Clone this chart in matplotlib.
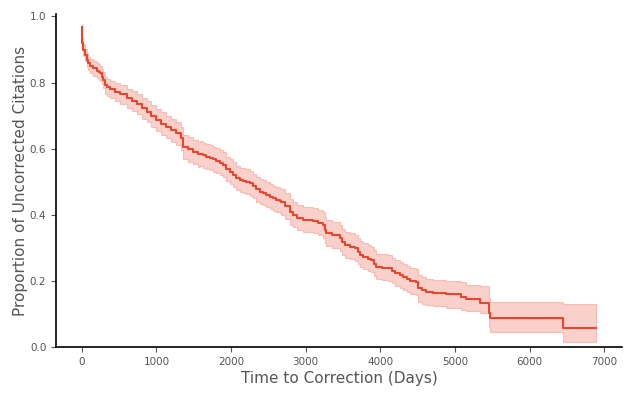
import numpy as np
import matplotlib
matplotlib.use("Agg")
import matplotlib.pyplot as plt

# Kaplan-Meier estimate (step, post)
days = [0, 3, 4, 17, 40, 63, 84, 116, 151, 197, 232, 250, 268, 285, 308, 331,
        375, 442, 509, 599, 666, 733, 800, 867, 933, 1000, 1067, 1134, 1201,
        1268, 1335, 1357, 1424, 1491, 1558,
        1580, 1625, 1670, 1714, 1759, 1804, 1848, 1892, 1938, 1982, 2026, 2072,
        2116, 2160, 2206, 2250, 2294, 2340, 2384, 2428, 2474, 2518, 2562, 2608,
        2652, 2665, 2719, 2786, 2830, 2879, 2960, 3098, 3161, 3232, 3254,
        3277, 3348, 3455, 3489, 3522, 3589, 3656, 3696, 3730, 3767, 3830, 3880,
        3911, 3947, 4018, 4102, 4152, 4192, 4259, 4303, 4353, 4393, 4483, 4504,
        4554, 4617, 4705, 4884, 5085, 5152, 5330, 5455, 5474, 6446, 6893]
surv = [0.969, 0.938, 0.918, 0.898, 0.883, 0.868, 0.858, 0.850, 0.843, 0.836,
        0.833, 0.828, 0.818, 0.807, 0.792, 0.785, 0.779, 0.772,
        0.764, 0.752, 0.744, 0.735, 0.723, 0.712, 0.699, 0.687,
        0.676, 0.666, 0.656, 0.647, 0.631, 0.606, 0.598, 0.591, 0.583,
        0.584, 0.580, 0.576, 0.572, 0.568, 0.564, 0.558, 0.551, 0.538, 0.531,
        0.521, 0.511, 0.505, 0.503, 0.500, 0.495, 0.487, 0.477, 0.470, 0.467,
        0.460, 0.455, 0.450, 0.445, 0.442,
        0.439, 0.427, 0.409, 0.400, 0.391, 0.386, 0.382,
        0.377, 0.369, 0.354, 0.344, 0.339, 0.329, 0.318, 0.309, 0.304, 0.299,
        0.289, 0.280, 0.274, 0.268, 0.264, 0.253, 0.243, 0.241, 0.239, 0.231,
        0.224, 0.218, 0.213, 0.206, 0.201, 0.198, 0.178, 0.172, 0.168, 0.165,
        0.161, 0.153, 0.145, 0.135, 0.103, 0.088, 0.057, 0.057]
ci_lower = [0.960, 0.925, 0.903, 0.880, 0.864, 0.848, 0.837, 0.828, 0.821, 0.813,
            0.809, 0.804, 0.794, 0.782, 0.766, 0.759, 0.752, 0.745,
            0.736, 0.723, 0.714, 0.704, 0.691, 0.680, 0.666, 0.653,
            0.642, 0.631, 0.621, 0.611, 0.595, 0.570, 0.561, 0.554, 0.546,
            0.547, 0.543, 0.539, 0.535, 0.531, 0.527, 0.521, 0.514, 0.501, 0.494,
            0.484, 0.474, 0.468, 0.466, 0.463, 0.458, 0.450, 0.440, 0.433, 0.430,
            0.423, 0.418, 0.413, 0.408, 0.405,
            0.401, 0.389, 0.371, 0.362, 0.353, 0.348, 0.344,
            0.339, 0.331, 0.316, 0.306, 0.301, 0.291, 0.280, 0.271, 0.266, 0.261,
            0.251, 0.242, 0.236, 0.230, 0.226, 0.215, 0.205, 0.203, 0.201, 0.193,
            0.185, 0.179, 0.174, 0.167, 0.162, 0.159, 0.138, 0.132, 0.127, 0.124,
            0.119, 0.112, 0.110, 0.104, 0.060, 0.047, 0.017, 0.017]
ci_upper = [0.978, 0.950, 0.933, 0.915, 0.901, 0.888, 0.878, 0.871, 0.864, 0.858,
            0.856, 0.851, 0.842, 0.831, 0.817, 0.810, 0.805, 0.798,
            0.791, 0.780, 0.773, 0.765, 0.754, 0.743, 0.731, 0.720,
            0.710, 0.700, 0.690, 0.682, 0.666, 0.642, 0.634, 0.627, 0.620,
            0.622, 0.618, 0.614, 0.610, 0.606, 0.602, 0.596, 0.589, 0.576, 0.569,
            0.559, 0.549, 0.543, 0.541, 0.538, 0.533, 0.525, 0.515, 0.508, 0.505,
            0.498, 0.493, 0.488, 0.483, 0.480,
            0.477, 0.466, 0.448, 0.439, 0.430, 0.425, 0.421,
            0.416, 0.408, 0.393, 0.384, 0.379, 0.369, 0.358, 0.349, 0.344, 0.339,
            0.329, 0.320, 0.314, 0.308, 0.304, 0.293, 0.283, 0.281, 0.279, 0.271,
            0.264, 0.258, 0.253, 0.246, 0.241, 0.238, 0.218, 0.212, 0.207, 0.204,
            0.200, 0.198, 0.188, 0.186, 0.150, 0.138, 0.131, 0.131]

color = '#e8472f'
grey = '#555555'

fig = plt.figure(figsize=(6.34, 3.97), dpi=100)
ax = fig.add_axes([56/634, 1 - 347.3/397, (622 - 56)/634, (347.3 - 14)/397])

ax.fill_between(days, ci_lower, ci_upper, step='post', color=color,
                alpha=0.25, linewidth=0.8)
ax.step(days, surv, where='post', color=color, lw=1.5)

ax.set_ylim(0, 1.007)
ax.set_xlim(-346, 7239)
ax.set_xticks(np.arange(0, 7001, 1000))
ax.set_yticks(np.arange(0, 1.01, 0.2))
ax.set_yticklabels(['0.0', '0.2', '0.4', '0.6', '0.8', '1.0'])

for s in ['top', 'right']:
    ax.spines[s].set_visible(False)
for s in ['left', 'bottom']:
    ax.spines[s].set_color('black')
    ax.spines[s].set_linewidth(1.2)

ax.tick_params(colors=grey, labelsize=7.5, length=3.5, width=0.8)
ax.set_xlabel('Time to Correction (Days)', fontsize=11, color=grey, labelpad=3)
ax.set_ylabel('Proportion of Uncorrected Citations', fontsize=11, color=grey,
              labelpad=1)

fig.savefig('out.png', dpi=100)
